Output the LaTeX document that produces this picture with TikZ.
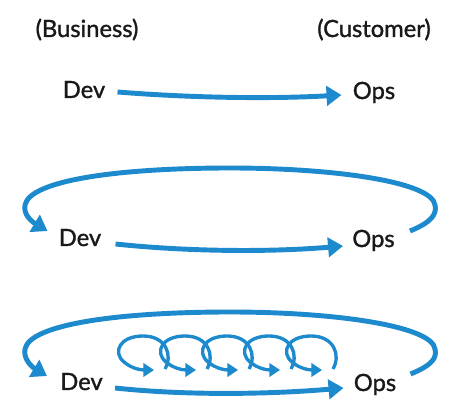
\documentclass[tikz,border=0pt]{standalone}
\usepackage{fontspec}
\setmainfont{Lato}
\newfontfamily\labelfont{Lato}[FakeBold=1.3]
\usetikzlibrary{arrows.meta,calc}
\definecolor{loopblue}{RGB}{28,138,205}
\begin{document}
\begin{tikzpicture}
    [x=0.02cm, y=-0.02cm,
     lbl/.style={inner sep=0pt, anchor=base, font=\labelfont\fontsize{13.5}{16}\selectfont, text=black!90},
     flow/.style={draw=loopblue, line width=2.8pt, -{Triangle[length=8.5pt,width=11pt]}},
     spin/.style={draw=loopblue, line width=1.9pt, -{Triangle[length=6pt,width=7.5pt]}} ]

    \useasboundingbox (0,0) rectangle (474,412);

    \node[lbl] (bus) at (87,37) {(Business)};
    \node[lbl] (cust) at (374,37) {(Customer)};

    % one pass
    \node[lbl] (dev1) at (84,98) {Dev};
    \node[lbl] (ops1) at (374,99) {Ops};
    \draw[flow] ($(dev1.base east)+(12,-6)$) .. controls +(75,6) and +(-70,4) .. ($(ops1.base west)+(-11,-4)$);

    % feedback
    \node[lbl] (dev2) at (80,246) {Dev};
    \node[lbl] (ops2) at (373.5,247) {Ops};
    \draw[flow] ($(dev2.base east)+(14,-2)$) .. controls +(75,8) and +(-70,6) .. ($(ops2.base west)+(-9,-1)$);
    \draw[flow] ($(ops2.base east)+(15,-16)$) .. controls +(22,-9) and +(2,9) .. (435,205)
        .. controls +(-3,-23) and +(105,0) .. (230,168)
        .. controls +(-110,0) and +(5,-25) .. (25,205)
        .. controls +(-2,10) and +(-15,-9) .. ($(dev2.base west)+(-11,-15)$);

    % feedback with small loops
    \node[lbl] (dev3) at (81.5,390) {Dev};
    \node[lbl] (ops3) at (375,391) {Ops};
    \draw[flow] ($(dev3.base east)+(12,-2)$) .. controls +(75,8) and +(-70,6) .. ($(ops3.base west)+(-10,-3)$);
    \draw[flow] ($(ops3.base east)+(14,-17)$) .. controls +(22,-9) and +(2,9) .. (435,349)
        .. controls +(-3,-23) and +(105,0) .. (230,312)
        .. controls +(-110,0) and +(5,-25) .. (25,349)
        .. controls +(-2,10) and +(-15,-9) .. ($(dev3.base west)+(-13,-14)$);

    \foreach \xc in {143,185,227,269,311}
        \draw[spin] (\xc+22,369) .. controls (\xc+30,355) and (\xc+23,336) .. (\xc,336)
            .. controls (\xc-23,336) and (\xc-31,352) .. (\xc-19,362)
            .. controls (\xc-12,368) and (\xc-3,370) .. (\xc+11,370);

\end{tikzpicture}
\end{document}
